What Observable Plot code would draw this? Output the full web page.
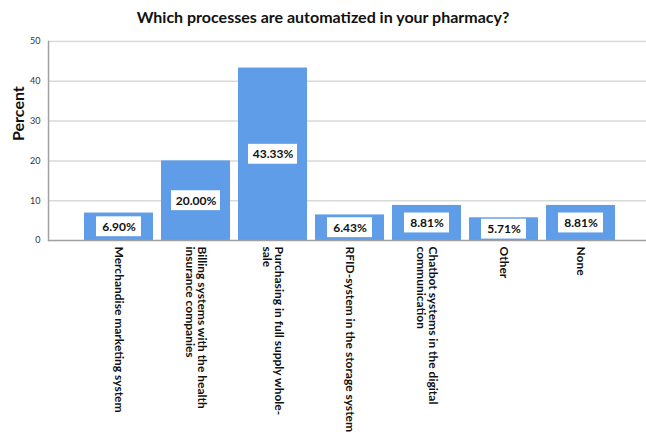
<!DOCTYPE html>
<html>
<head>
<meta charset="utf-8">
<script src="https://cdn.jsdelivr.net/npm/d3@7"></script>
<script src="https://cdn.jsdelivr.net/npm/@observablehq/plot@0.6"></script>
<style>
  html, body { margin: 0; padding: 0; background: #fff; }
  body { width: 646px; height: 444px; overflow: hidden; font-family: Lato, "Open Sans", sans-serif; }
  #title { height: 30px; line-height: 34px; text-align: center; font-weight: bold; font-size: 16px; color: #111; }
</style>
</head>
<body>
<div id="title">Which processes are automatized in your pharmacy?</div>
<div id="chart"></div>
<script>
const categories = [
  "Merchandise marketing system",
  "Billing systems with the health insurance companies",
  "Purchasing in full supply whole-sale",
  "RFID-system in the storage system",
  "Chatbot systems in the digital communication",
  "Other",
  "None"
];
const tickLabels = [
  "Merchandise marketing system",
  "Billing systems with the health\ninsurance companies",
  "Purchasing in full supply whole-\nsale",
  "RFID-system in the storage system",
  "Chatbot systems in the digital\ncommunication",
  "Other",
  "None"
];
const percents = [6.90, 20.00, 43.33, 6.43, 8.81, 5.71, 8.81];
const valueLabels = ["6.90%", "20.00%", "43.33%", "6.43%", "8.81%", "5.71%", "8.81%"];
const yTicks = [0, 10, 20, 30, 40, 50];

const data = categories.map((c, i) => ({cat: c, tick: tickLabels[i], value: percents[i], label: valueLabels[i]}));
const shortLab = data.filter(d => d.label.length <= 5);
const longLab = data.filter(d => d.label.length > 5);
const boxHalf = 2.5;
const boxLow = d => Math.max(0.3, d.value / 2 - boxHalf);

const chart = Plot.plot({
  width: 646,
  height: 414,
  marginLeft: 48,
  marginRight: 0,
  marginTop: 11,
  marginBottom: 204,
  style: {fontFamily: "Lato, 'Open Sans', sans-serif", background: "#fff"},
  x: {domain: categories, padding: 0.1, insetLeft: 26, insetRight: 21, axis: null},
  y: {domain: [0, 50], ticks: yTicks, label: null},
  marks: [
    Plot.gridY(yTicks.filter(t => t > 0), {stroke: "#d9d9d9", strokeOpacity: 1, strokeWidth: 1.5}),
    Plot.barY(data, {x: "cat", y: "value", fill: "#5f9de8"}),
    Plot.barY(shortLab, {x: "cat", y1: boxLow, y2: d => boxLow(d) + 2 * boxHalf, fill: "white", insetLeft: 12, insetRight: 12}),
    Plot.barY(longLab, {x: "cat", y1: boxLow, y2: d => boxLow(d) + 2 * boxHalf, fill: "white", insetLeft: 10, insetRight: 10}),
    Plot.text(data, {x: "cat", y: d => boxLow(d) + boxHalf, text: "label", fontWeight: "bold", fontSize: 12, fill: "#111"}),
    Plot.ruleY([0], {stroke: "#a0a0a0", strokeWidth: 1.5}),
    Plot.frame({anchor: "left", stroke: "#a0a0a0", strokeWidth: 1.5}),
    Plot.axisY({ticks: yTicks, tickSize: 0, tickPadding: 8, fontSize: 9, fill: "#333", label: null}),
    Plot.text(["Percent"], {frameAnchor: "left", dx: -30, rotate: -90, fontWeight: "bold", fontSize: 16, fill: "#111"}),
    Plot.text(data, {x: "cat", text: "tick", frameAnchor: "bottom", dy: 6, rotate: 90, textAnchor: "start", lineAnchor: "middle", fontWeight: "bold", fontSize: 12, fill: "#111", lineHeight: 1.0}),
  ]
});
document.getElementById("chart").appendChild(chart);
</script>
</body>
</html>
